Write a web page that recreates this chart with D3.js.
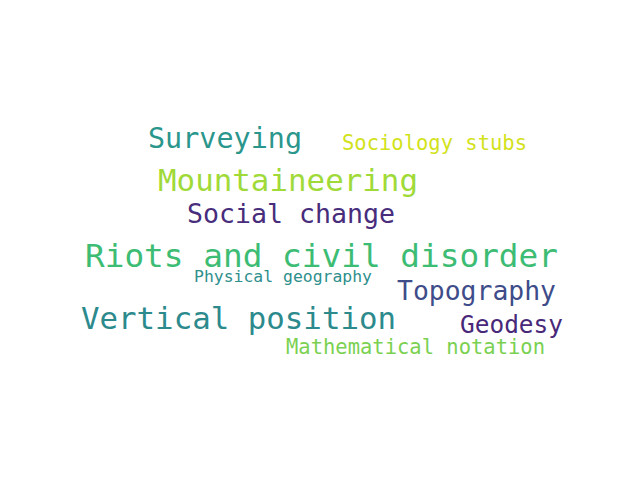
<!DOCTYPE html>
<html>
<head>
<meta charset="utf-8">
<script src="https://cdn.jsdelivr.net/npm/d3@7"></script>
<style>body{margin:0;background:#fff}</style>
</head>
<body>
<script>
// word cloud data
var words = ["Surveying", "Sociology stubs", "Mountaineering", "Social change",
  "Riots and civil disorder", "Physical geography", "Topography",
  "Vertical position", "Geodesy", "Mathematical notation"];
var weights = [28.4, 20.5, 30.8, 26.6, 32.7, 16.4, 26.4, 30.8, 24.4, 20.5];
var cx = [225, 434.5, 288, 291, 321.5, 283, 476.5, 238.5, 511.5, 415.5];
var cy = [138, 143, 180, 213, 256, 276, 290, 318, 324, 347];
var widths = [154, 185, 260, 208, 473, 178, 159, 315, 103, 259];
var colors = ["#2a968c", "#d2e21b", "#a0da39", "#472d7b", "#3dbc74",
  "#2e8f8c", "#3e4c8a", "#2c8a8d", "#482878", "#7ad151"];

var width = 640, height = 480;
var x = d3.scaleLinear().domain([0, 640]).range([0, width]);
var y = d3.scaleLinear().domain([0, 480]).range([0, height]);

var svg = d3.select("body").append("svg")
  .attr("width", width)
  .attr("height", height);

svg.selectAll("text")
  .data(words)
  .enter().append("text")
  .attr("x", function (d, i) { return x(cx[i]); })
  .attr("y", function (d, i) { return y(cy[i]); })
  .attr("text-anchor", "middle")
  .attr("dominant-baseline", "central")
  .attr("font-family", "DejaVu Sans Mono")
  .attr("font-size", function (d, i) { return weights[i]; })
  .attr("textLength", function (d, i) { return widths[i]; })
  .attr("lengthAdjust", "spacingAndGlyphs")
  .attr("fill", function (d, i) { return colors[i]; })
  .text(function (d) { return d; });
</script>
</body>
</html>
